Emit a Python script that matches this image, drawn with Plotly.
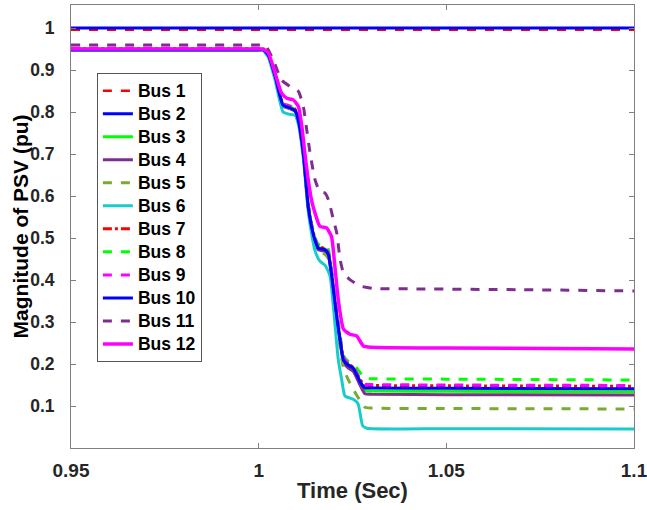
import plotly.graph_objects as go

# ---- data ----
t_flat = [0.95, 1.1]
bus1_v = [0.996, 0.996]
bus2_v = [1.0, 1.0]

t_cluster = [0.95, 1.0000, 1.0012, 1.0026, 1.0044, 1.0065, 1.0080, 1.0097, 1.0106, 1.0119,
             1.0132, 1.0141, 1.0150, 1.0159, 1.0177, 1.0186, 1.0194, 1.0208, 1.0217,
             1.0226, 1.0239, 1.0252, 1.0270, 1.0283, 1.0300, 1.0500, 1.1000]
bus3_v = [0.950, 0.950, 0.950, 0.936, 0.886, 0.818, 0.813, 0.806, 0.781, 0.703, 0.577, 0.529,
          0.497, 0.478, 0.474, 0.462, 0.418, 0.315, 0.260, 0.212, 0.199, 0.191, 0.160,
          0.137, 0.136, 0.135, 0.134]
bus4_v = [0.949, 0.949, 0.949, 0.934, 0.884, 0.814, 0.809, 0.802, 0.777, 0.699, 0.572, 0.524,
          0.490, 0.472, 0.468, 0.456, 0.410, 0.306, 0.252, 0.204, 0.190, 0.183, 0.150,
          0.129, 0.128, 0.127, 0.126]
bus5_v = [0.950, 0.950, 0.950, 0.935, 0.885, 0.815, 0.810, 0.803, 0.778, 0.700, 0.574, 0.525,
          0.490, 0.468, 0.461, 0.450, 0.405, 0.300, 0.240, 0.190, 0.162, 0.140, 0.113,
          0.097, 0.095, 0.094, 0.093]
bus7_v = [0.951, 0.951, 0.951, 0.937, 0.887, 0.819, 0.814, 0.807, 0.782, 0.704, 0.578, 0.530,
          0.498, 0.479, 0.475, 0.463, 0.419, 0.317, 0.262, 0.214, 0.200, 0.192, 0.163,
          0.150, 0.149, 0.148, 0.147]
bus8_v = [0.951, 0.951, 0.951, 0.937, 0.888, 0.820, 0.816, 0.809, 0.784, 0.706, 0.580, 0.533,
          0.502, 0.485, 0.483, 0.472, 0.425, 0.322, 0.268, 0.220, 0.206, 0.200, 0.180,
          0.166, 0.165, 0.164, 0.162]
bus9_v = [0.952, 0.952, 0.952, 0.938, 0.888, 0.820, 0.815, 0.808, 0.783, 0.705, 0.579, 0.531,
          0.499, 0.480, 0.476, 0.464, 0.420, 0.318, 0.263, 0.215, 0.201, 0.193, 0.165,
          0.152, 0.151, 0.150, 0.149]
bus10_v = [0.948, 0.948, 0.948, 0.935, 0.885, 0.816, 0.811, 0.804, 0.779, 0.701, 0.575, 0.527,
           0.495, 0.476, 0.472, 0.460, 0.415, 0.312, 0.257, 0.209, 0.197, 0.190, 0.158,
           0.143, 0.143, 0.142, 0.141]

t_bus6 = [0.95, 1.0000, 1.0012, 1.0026, 1.0044, 1.0065, 1.0080, 1.0097, 1.0106, 1.0119, 1.0132,
          1.0141, 1.0150, 1.0163, 1.0177, 1.0190, 1.0199, 1.0212, 1.0221, 1.0230, 1.0252,
          1.0265, 1.0277, 1.0288, 1.0500, 1.1000]
bus6_v = [0.947, 0.947, 0.947, 0.930, 0.875, 0.800, 0.795, 0.792, 0.770, 0.690, 0.565, 0.510,
          0.470, 0.445, 0.435, 0.410, 0.338, 0.211, 0.164, 0.124, 0.116, 0.105, 0.053,
          0.047, 0.046, 0.045]

t_bus11 = [0.95, 1.0000, 1.0017, 1.0039, 1.0061, 1.0084, 1.0106, 1.0119, 1.0128, 1.0137, 1.0150,
           1.0163, 1.0177, 1.0186, 1.0199, 1.0208, 1.0217, 1.0226, 1.0243, 1.0270, 1.0305,
           1.0400, 1.0700, 1.1000]
bus11_v = [0.960, 0.960, 0.960, 0.924, 0.876, 0.861, 0.849, 0.813, 0.758, 0.702, 0.639, 0.611,
           0.607, 0.591, 0.544, 0.512, 0.449, 0.417, 0.401, 0.386, 0.380, 0.379, 0.377, 0.374]

t_bus12 = [0.95, 1.0000, 1.0012, 1.0026, 1.0044, 1.0061, 1.0075, 1.0092, 1.0106, 1.0115, 1.0123,
           1.0132, 1.0141, 1.0150, 1.0163, 1.0181, 1.0194, 1.0203, 1.0212, 1.0226, 1.0243,
           1.0261, 1.0279, 1.0300, 1.0500, 1.1000]
bus12_v = [0.950, 0.950, 0.950, 0.940, 0.892, 0.845, 0.833, 0.829, 0.813, 0.766, 0.702, 0.639,
           0.590, 0.560, 0.528, 0.524, 0.504, 0.433, 0.354, 0.283, 0.271, 0.267, 0.243,
           0.240, 0.238, 0.236]

names = ["Bus 1", "Bus 2", "Bus 3", "Bus 4", "Bus 5", "Bus 6",
         "Bus 7", "Bus 8", "Bus 9", "Bus 10", "Bus 11", "Bus 12"]
x_ticks = [0.95, 1.0, 1.05, 1.1]
x_tick_text = ["0.95", "1", "1.05", "1.1"]
y_ticks = [0.1, 0.2, 0.3, 0.4, 0.5, 0.6, 0.7, 0.8, 0.9, 1.0]
y_tick_text = ["0.1", "0.2", "0.3", "0.4", "0.5", "0.6", "0.7", "0.8", "0.9", "1"]
x_title = "Time (Sec)"
y_title = "Magnitude of PSV (pu)"

RED, BLUE, GREEN = "#FF0000", "#0000FF", "#00FF00"
PURPLE, OLIVE, CYAN, MAGENTA = "#7E2F8E", "#77AC30", "#19CCCC", "#FF00FF"

series = [
    (t_flat, bus1_v, RED, "dash", 2.5),
    (t_flat, bus2_v, BLUE, "solid", 3),
    (t_cluster, bus3_v, GREEN, "solid", 3),
    (t_cluster, bus4_v, PURPLE, "solid", 3),
    (t_cluster, bus5_v, OLIVE, "dash", 3),
    (t_bus6, bus6_v, CYAN, "solid", 3),
    (t_cluster, bus7_v, RED, "dashdot", 3),
    (t_cluster, bus8_v, GREEN, "dash", 3),
    (t_cluster, bus9_v, MAGENTA, "dash", 3),
    (t_cluster, bus10_v, BLUE, "solid", 3),
    (t_bus11, bus11_v, PURPLE, "dash", 3),
    (t_bus12, bus12_v, MAGENTA, "solid", 3.5),
]

fig = go.Figure()
for name, (tx, vy, col, dash, w) in zip(names, series):
    fig.add_trace(go.Scatter(
        x=tx, y=vy, mode="lines",
        name='<span style="font-size:17.5px">' + name + '</span>',
        line=dict(color=col, dash=dash, width=w, shape="spline", smoothing=0.5),
    ))

FONT = "Arial"
fig.update_layout(
    width=647, height=510,
    margin=dict(l=71, r=13, t=5, b=62, autoexpand=False),
    paper_bgcolor="white", plot_bgcolor="white",
    font=dict(family=FONT, color="#262626"),
    showlegend=True,
    legend=dict(
        x=0.046, y=0.846, xanchor="left", yanchor="top",
        bgcolor="white", bordercolor="#555555", borderwidth=1,
        font=dict(family=FONT, size=15.4, color="#000000", weight="bold"),
        tracegroupgap=0,
    ),
    annotations=[dict(
        text=y_title, textangle=-90, xref="paper", yref="paper",
        x=-0.089, y=0.5, xanchor="center", yanchor="middle", showarrow=False,
        font=dict(family=FONT, size=21, color="#000000", weight="bold"),
    )],
)
fig.update_xaxes(
    automargin=False,
    range=[0.95, 1.1], tickvals=x_ticks, ticktext=x_tick_text,
    showgrid=False, zeroline=False,
    showline=True, linecolor="#808080", linewidth=1, mirror="ticks",
    ticks="inside", ticklen=5, tickcolor="#808080",
    tickfont=dict(family=FONT, size=19, color="#262626", weight="bold"),
    ticklabelstandoff=5, ticklabeloverflow="allow",
    title=dict(text=x_title, font=dict(family=FONT, size=22, color="#262626", weight="bold"),
               standoff=2),
)
fig.update_yaxes(
    automargin=False,
    range=[0.0, 1.055], tickvals=y_ticks, ticktext=y_tick_text,
    showgrid=False, zeroline=False,
    showline=True, linecolor="#808080", linewidth=1, mirror="ticks",
    ticks="inside", ticklen=5, tickcolor="#808080",
    tickfont=dict(family=FONT, size=17.5, color="#262626", weight="bold"),
    ticklabelstandoff=12, ticklabeloverflow="allow",
)

fig.write_html("out.html", post_script="document.body.style.margin='0';",
               config={"displayModeBar": False})
